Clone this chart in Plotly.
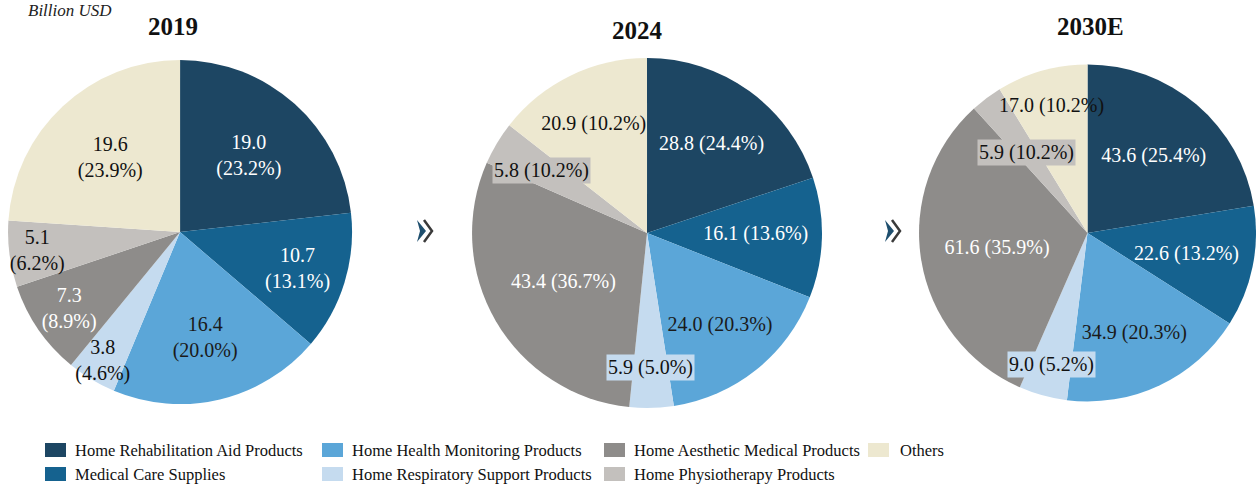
import math
import plotly.graph_objects as go

# Segment names, in clockwise order from 12 o'clock
categories = [
    "Home Rehabilitation Aid Products",
    "Medical Care Supplies",
    "Home Health Monitoring Products",
    "Home Respiratory Support Products",
    "Home Aesthetic Medical Products",
    "Home Physiotherapy Products",
    "Others",
]

years = ["2019", "2024", "2030E"]

# Market size, billion USD
values_2019 = [19.0, 10.7, 16.4, 3.8, 7.3, 5.1, 19.6]
values_2024 = [28.8, 16.1, 24.0, 5.9, 43.4, 5.8, 20.9]
values_2030 = [43.6, 22.6, 34.9, 9.0, 61.6, 5.9, 17.0]

# Shares as printed on each segment
shares_2019 = ["23.2%", "13.1%", "20.0%", "4.6%", "8.9%", "6.2%", "23.9%"]
shares_2024 = ["24.4%", "13.6%", "20.3%", "5.0%", "36.7%", "10.2%", "10.2%"]
shares_2030 = ["25.4%", "13.2%", "20.3%", "5.2%", "35.9%", "10.2%", "10.2%"]

colors = ["#1d4663", "#15628f", "#5ba6d8", "#c5dbef", "#8e8c8a", "#c3c0bd", "#ede8d0"]
text_colors = ["white", "white", "#1a1a1a", "#111111", "white", "#111111", "#111111"]

# Thin slices get their label on a box of the slice colour
BOXED = {3, 5}

FONT = "'Liberation Serif', 'Times New Roman', Times, serif"
LABEL_SIZE = 20
W, H = 1256, 484


def px(x):
    return x / W


def py(y):
    return 1 - y / H


fig = go.Figure()

# (values, shares, x-domain, y-domain, label format,
#  slices whose label is placed by hand: index -> fraction of the radius)
pies = [
    (values_2019, shares_2019, [0.0064, 0.2803], [0.165, 0.876],
     "%{value:.1f}<br>(%{customdata})", {}),
    (values_2024, shares_2024, [0.3758, 0.6545], [0.157, 0.880],
     "%{value:.1f} (%{customdata})", {3: 0.77, 5: 0.70}),
    (values_2030, shares_2030, [0.7317, 1.0], [0.1705, 0.8667],
     "%{value:.1f} (%{customdata})", {1: 0.60, 3: 0.81, 5: 0.60}),
]

annotations = []

for vals, shares, dx, dy, tmpl, placed in pies:
    templates = ["" if i in placed else tmpl for i in range(len(vals))]
    fig.add_trace(go.Pie(
        labels=categories,
        values=vals,
        customdata=shares,
        texttemplate=templates,
        textposition="inside",
        insidetextorientation="horizontal",
        insidetextfont=dict(family=FONT, size=LABEL_SIZE, color=text_colors),
        sort=False,
        direction="clockwise",
        rotation=0,
        marker=dict(colors=colors, line=dict(width=0)),
        domain=dict(x=dx, y=dy),
        showlegend=False,
        hoverinfo="label+value",
    ))

    # Hand-placed labels sit on each slice's mid angle
    wpx = (dx[1] - dx[0]) * W
    hpx = (dy[1] - dy[0]) * H
    radius = min(wpx, hpx) / 2
    cx = (dx[0] + dx[1]) / 2 * W
    cy = H - (dy[0] + dy[1]) / 2 * H
    total = sum(vals)
    cum = 0.0
    for i, v in enumerate(vals):
        mid = (cum + v / 2) / total * 2 * math.pi
        cum += v
        if i not in placed:
            continue
        r = placed[i] * radius
        lx = cx + r * math.sin(mid)
        ly = cy - r * math.cos(mid)
        ann = dict(
            x=px(lx), y=py(ly), text="%.1f (%s)" % (v, shares[i]), showarrow=False,
            xanchor="center", yanchor="middle", borderpad=1,
            font=dict(family=FONT, size=LABEL_SIZE, color=text_colors[i]))
        if i in BOXED:
            ann["bgcolor"] = colors[i]
        annotations.append(ann)

annotations.append(dict(x=px(26), y=py(-1), text="<i>Billion USD</i>", showarrow=False,
                        xanchor="left", yanchor="top",
                        font=dict(family=FONT, size=17, color="#222")))
title_pos = [(173, 27), (637, 30), (1090, 27)]
for yr, (tx, ty) in zip(years, title_pos):
    annotations.append(dict(x=px(tx), y=py(ty), text="<b>%s</b>" % yr, showarrow=False,
                            xanchor="center", yanchor="middle",
                            font=dict(family=FONT, size=25, color="#111")))

shapes = []

# Double chevrons between the pies
for cx in (417, 885):
    cy = 231
    shapes.append(dict(
        type="path", xref="paper", yref="paper",
        path="M {} {} L {} {} L {} {} L {} {} Z".format(
            px(cx), py(cy - 11), px(cx + 9), py(cy), px(cx), py(cy + 11),
            px(cx + 3), py(cy)),
        fillcolor="#1f4f6e", line=dict(width=0)))
    shapes.append(dict(
        type="path", xref="paper", yref="paper",
        path="M {} {} L {} {} L {} {}".format(
            px(cx + 7), py(cy - 11), px(cx + 15), py(cy), px(cx + 7), py(cy + 11)),
        line=dict(color="#3a3a3a", width=2.5)))

# Legend: swatch + label, two rows
legend_slots = [
    (45, 450), (45, 474),
    (322, 450), (322, 474),
    (604, 450), (604, 474),
    (868, 450),
]
for idx, (lx, ly) in enumerate(legend_slots):
    shapes.append(dict(type="rect", xref="paper", yref="paper",
                       x0=px(lx), x1=px(lx + 21), y0=py(ly - 7), y1=py(ly + 7),
                       fillcolor=colors[idx], line=dict(width=0)))
    annotations.append(dict(x=px(lx + (30 if idx == 6 else 28)), y=py(ly), text=categories[idx],
                            showarrow=False, xanchor="left", yanchor="middle",
                            font=dict(family=FONT, size=16.5, color="#111")))

fig.update_layout(
    width=W, height=H,
    margin=dict(l=0, r=0, t=0, b=0),
    paper_bgcolor="white",
    plot_bgcolor="white",
    font=dict(family=FONT),
    annotations=annotations,
    shapes=shapes,
    uniformtext=dict(minsize=LABEL_SIZE, mode="show"),
)

fig.write_html("out.html")
